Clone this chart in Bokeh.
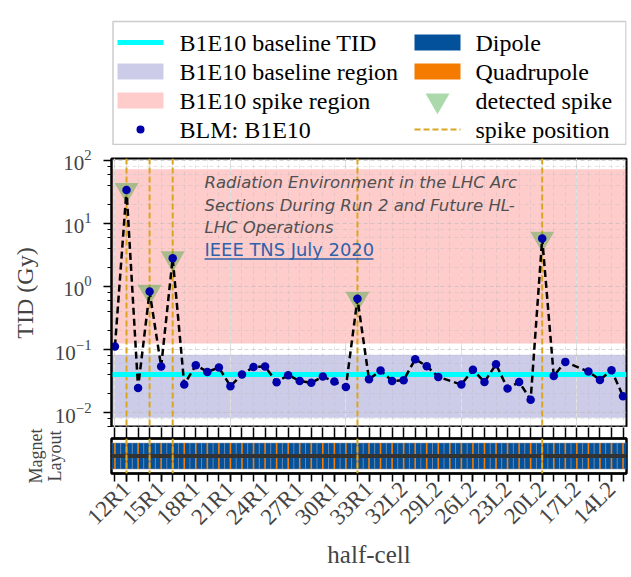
import math
from bokeh.plotting import figure
from bokeh.models import Range1d, FixedTicker, Span, Label, LogTicker, LinearAxis, Grid
from bokeh.layouts import column
from bokeh.core.properties import value
from bokeh.embed import file_html
from bokeh.resources import INLINE

# ---------------- data ----------------
half_cells = [f"{n}R1" for n in range(11, 35)] + [f"{n}L2" for n in range(33, 12, -1)]
tick_cells = ["12R1", "15R1", "18R1", "21R1", "24R1", "27R1", "30R1", "33R1",
              "32L2", "29L2", "26L2", "23L2", "20L2", "17L2", "14L2"]
missing_cells = ["28L2", "17L2"]
blm_cells = [c for c in half_cells if c not in missing_cells]
blm_tid = [0.112, 34.0, 0.0246, 0.83, 0.0537, 2.8, 0.0278, 0.0564, 0.0442, 0.0518,
           0.0262, 0.0401, 0.053, 0.0537, 0.0303, 0.0392, 0.0318, 0.0296, 0.0373, 0.031,
           0.0255, 0.64, 0.0337, 0.0465, 0.0318, 0.0326, 0.0703, 0.0545, 0.0368,
           0.0278, 0.0476, 0.0306, 0.0585, 0.024, 0.0306, 0.016, 5.75, 0.0382, 0.0637,
           0.0447, 0.033, 0.047, 0.0182]
spike_cells = ["12R1", "14R1", "16R1", "32R1", "20L2"]
baseline_tid = 0.040
baseline_region = [0.0083, 0.083]
spike_region = [0.125, 72.0]
legend_labels = ["B1E10 baseline TID", "B1E10 baseline region", "B1E10 spike region", "BLM: B1E10",
                 "Dipole", "Quadrupole", "detected spike", "spike position"]
paper_lines = ["Radiation Environment in the LHC Arc", "Sections During Run 2 and Future HL-",
               "LHC Operations"]
paper_link = "IEEE TNS July 2020"

# ---------------- derived ----------------
pos = {c: i for i, c in enumerate(half_cells)}
ticks_all = list(range(len(half_cells)))
ticks_lab = [pos[c] for c in tick_cells]
blm_x = [pos[c] for c in blm_cells]
tid_of = dict(zip(blm_cells, blm_tid))
spike_x = [pos[c] for c in spike_cells]
spike_y = [tid_of[c] for c in spike_cells]

SERIF = "Liberation Serif"
SANS = "DejaVu Sans"
C_POINT = "#0000aa"
C_BASE_REG = "#00008b"
C_DIPOLE = "#03519b"
C_QUAD = "#f47a00"
C_SPIKE = "#daa520"
C_TRI = "#2ca02c"

LEFT = 111
FW = 515
RIGHT = 5
XMIN, XMAX = -0.3, 44.3
YMIN, YMAX = 0.0058, 107.0
LEG_H = 145
MAIN_TOP = 13
FRAME_TOP = LEG_H + MAIN_TOP
MAIN_H = 269
MAG_H = 35

# ---------------- legend figure (drawn in page pixels) ----------------
leg = figure(frame_width=FW, frame_height=LEG_H, x_range=Range1d(LEFT, LEFT + FW),
             y_range=Range1d(LEG_H, 0), toolbar_location=None, output_backend="svg",
             min_border_left=LEFT, min_border_right=RIGHT, min_border_top=0, min_border_bottom=0,
             x_axis_location=None, y_axis_location=None, outline_line_color=None)
leg.grid.visible = False
leg.quad(left=[112.5], right=[625.5], top=[21], bottom=[144], fill_color="white",
         line_color="#cccccc", line_width=1.5)
rows = [42, 71, 100, 129]
gx = [117, 414]
gw = 46
tx = [179, 475]
leg.line(x=[gx[0], gx[0] + gw], y=[rows[0]] * 2, line_color="cyan", line_width=5)
leg.quad(left=[gx[0]], right=[gx[0] + gw], top=[rows[1] - 8], bottom=[rows[1] + 8],
         fill_color=C_BASE_REG, fill_alpha=0.2, line_color=None)
leg.quad(left=[gx[0]], right=[gx[0] + gw], top=[rows[2] - 8], bottom=[rows[2] + 8],
         fill_color="red", fill_alpha=0.2, line_color=None)
leg.scatter(x=[gx[0] + gw / 2], y=[rows[3]], size=8, fill_color=C_POINT, line_color=None)
leg.quad(left=[gx[1]], right=[gx[1] + gw], top=[rows[0] - 8], bottom=[rows[0] + 8],
         fill_color=C_DIPOLE, line_color=None)
leg.quad(left=[gx[1]], right=[gx[1] + gw], top=[rows[1] - 8], bottom=[rows[1] + 8],
         fill_color=C_QUAD, line_color=None)
leg.scatter(x=[gx[1] + gw / 2], y=[rows[2]], marker="inverted_triangle", size=24,
            fill_color=C_TRI, fill_alpha=0.4, line_color=None)
leg.line(x=[gx[1], gx[1] + gw], y=[rows[3]] * 2, line_color=C_SPIKE, line_width=2,
         line_dash="6 3")
leg.text(x=[tx[0]] * 4 + [tx[1]] * 4, y=rows + rows, text=legend_labels,
         text_font=value(SERIF), text_font_size="24px", text_baseline="middle",
         text_align="left", text_color="black")

# ---------------- main figure ----------------
p = figure(frame_width=FW, frame_height=MAIN_H, x_range=Range1d(XMIN, XMAX),
           y_range=Range1d(YMIN, YMAX), y_axis_type="log", x_axis_location=None,
           toolbar_location=None, output_backend="svg",
           min_border_left=LEFT, min_border_right=RIGHT, min_border_top=MAIN_TOP,
           min_border_bottom=0)
p.outline_line_color = "black"
p.outline_line_width = 2

p.quad(left=[XMIN], right=[XMAX], bottom=[spike_region[0]], top=[spike_region[1]],
       fill_color="red", fill_alpha=0.2, line_color=None, level="image")
p.quad(left=[XMIN], right=[XMAX], bottom=[baseline_region[0]], top=[baseline_region[1]],
       fill_color=C_BASE_REG, fill_alpha=0.2, line_color=None, level="image")

p.add_layout(Grid(dimension=0, ticker=FixedTicker(ticks=ticks_all), grid_line_color="#b8b8b8",
                  grid_line_alpha=0.35, grid_line_dash="4 3"))

for sx in spike_x:
    p.add_layout(Span(location=sx, dimension="height", line_color=C_SPIKE, line_width=2,
                      line_dash="6 3", level="underlay"))
p.add_layout(Span(location=baseline_tid, dimension="width", line_color="cyan",
                  line_width=5, level="underlay"))

p.scatter(x=spike_x, y=spike_y, marker="inverted_triangle", size=24, fill_color=C_TRI,
          fill_alpha=0.4, line_color=None)
p.line(x=blm_x, y=blm_tid, line_color="black", line_width=2.5, line_dash="7 4")
p.scatter(x=blm_x, y=blm_tid, size=8.5, fill_color=C_POINT, line_color=None)

p.yaxis.ticker = LogTicker(desired_num_ticks=5)
p.yaxis.axis_label = "TID (Gy)"
p.yaxis.axis_label_text_font = SERIF
p.yaxis.axis_label_text_font_size = "24px"
p.yaxis.axis_label_text_font_style = "normal"
p.yaxis.axis_label_standoff = 14
p.yaxis.major_label_text_font = SERIF
p.yaxis.major_label_text_font_size = "21px"
p.yaxis.major_label_standoff = 12
p.yaxis.major_tick_out = 8
p.yaxis.major_tick_in = 0
p.yaxis.minor_tick_out = 4
p.yaxis.minor_tick_in = 0
p.yaxis.axis_line_width = 2
p.yaxis.major_tick_line_width = 1.5

p.ygrid.grid_line_color = "#b8b8b8"
p.ygrid.grid_line_alpha = 0.35
p.ygrid.grid_line_dash = "4 3"
p.ygrid.minor_grid_line_color = "#b8b8b8"
p.ygrid.minor_grid_line_alpha = 0.35
p.ygrid.minor_grid_line_dash = "4 3"

LOGSPAN = math.log10(YMAX) - math.log10(YMIN)


def main_y(page_y):
    frac = (page_y - FRAME_TOP) / MAIN_H
    return 10 ** (math.log10(YMAX) - frac * LOGSPAN)


def data_x(page_x):
    return XMIN + (page_x - LEFT) / FW * (XMAX - XMIN)


for txt, py in zip(paper_lines, [182, 204.5, 227]):
    p.add_layout(Label(x=data_x(204), y=main_y(py), text=txt, text_font=SANS,
                       text_font_style="italic", text_font_size="16.5px", text_color="#505050",
                       text_baseline="middle", text_align="left"))
p.add_layout(Label(x=data_x(204), y=main_y(248.5), text=paper_link, text_font=SANS,
                   text_font_size="17.9px", text_color="#2f62aa", text_baseline="middle",
                   text_align="left"))
p.segment(x0=[data_x(204)], x1=[data_x(373)], y0=[main_y(258.5)], y1=[main_y(258.5)],
          line_color="#2f62aa", line_width=1.6)

# ---------------- magnet layout figure ----------------
MY0, MY1 = -1.35, 1.35
m = figure(frame_width=FW, frame_height=MAG_H, x_range=p.x_range, y_range=Range1d(MY0, MY1),
           toolbar_location=None, output_backend="svg", x_axis_location=None,
           y_axis_location=None,
           min_border_left=LEFT, min_border_right=RIGHT, min_border_top=0, min_border_bottom=0)
m.outline_line_color = "black"
m.outline_line_width = 2.5
m.grid.visible = False

m.quad(left=[x - 0.5 for x in ticks_all], right=[x + 0.5 for x in ticks_all],
       bottom=[0.1] * len(ticks_all), top=[1.0] * len(ticks_all),
       fill_color=C_DIPOLE, line_color="#8a94a6", line_width=0.5)
m.quad(left=[x - 0.5 for x in ticks_all], right=[x + 0.5 for x in ticks_all],
       bottom=[-1.0] * len(ticks_all), top=[-0.1] * len(ticks_all),
       fill_color=C_DIPOLE, line_color="#8a94a6", line_width=0.5)
m.quad(left=[x - 0.07 for x in ticks_all], right=[x + 0.07 for x in ticks_all],
       bottom=[-1.0] * len(ticks_all), top=[1.0] * len(ticks_all),
       fill_color=C_QUAD, line_color=None)
m.add_layout(Span(location=0, dimension="width", line_color="#333333", line_width=4))
for sx in spike_x:
    m.add_layout(Span(location=sx, dimension="height", line_color=C_SPIKE, line_width=2,
                      line_dash="6 2"))

# tick marks between the two panels
top_ax = LinearAxis(ticker=FixedTicker(ticks=[], minor_ticks=ticks_all))
top_ax.major_tick_out = 11
top_ax.major_tick_in = 0
top_ax.minor_tick_out = 11
top_ax.minor_tick_in = 0
top_ax.minor_tick_line_width = 1.5
top_ax.major_label_standoff = 0
top_ax.axis_line_width = 2
m.add_layout(top_ax, "above")

bot_ax = LinearAxis(ticker=FixedTicker(ticks=ticks_lab, minor_ticks=ticks_all))
bot_ax.major_label_overrides = {pos[c]: c for c in tick_cells}
bot_ax.major_label_orientation = math.pi / 4
bot_ax.major_label_text_font = SERIF
bot_ax.major_label_text_font_size = "23px"
bot_ax.major_label_standoff = 4
bot_ax.major_tick_out = 8
bot_ax.major_tick_in = 0
bot_ax.minor_tick_out = 8
bot_ax.minor_tick_in = 0
bot_ax.minor_tick_line_width = 1.5
bot_ax.major_tick_line_width = 1.5
bot_ax.axis_line_width = 2
bot_ax.axis_label = "half-cell"
bot_ax.axis_label_text_font = SERIF
bot_ax.axis_label_text_font_size = "25px"
bot_ax.axis_label_text_font_style = "normal"
bot_ax.axis_label_standoff = 0
m.add_layout(bot_ax, "below")

left_ax = LinearAxis(ticker=FixedTicker(ticks=[]))
left_ax.axis_line_color = None
left_ax.major_tick_out = 0
left_ax.major_tick_in = 0
left_ax.minor_tick_out = 0
left_ax.major_label_standoff = 0
left_ax.axis_label = "Magnet\nLayout"
left_ax.axis_label_text_font = SERIF
left_ax.axis_label_text_font_size = "18px"
left_ax.axis_label_text_font_style = "normal"
left_ax.axis_label_text_line_height = 0.95
left_ax.axis_label_standoff = 47
m.add_layout(left_ax, "left")

layout = column(leg, p, m, spacing=0)
open("out.html", "w").write(file_html(layout, INLINE))
